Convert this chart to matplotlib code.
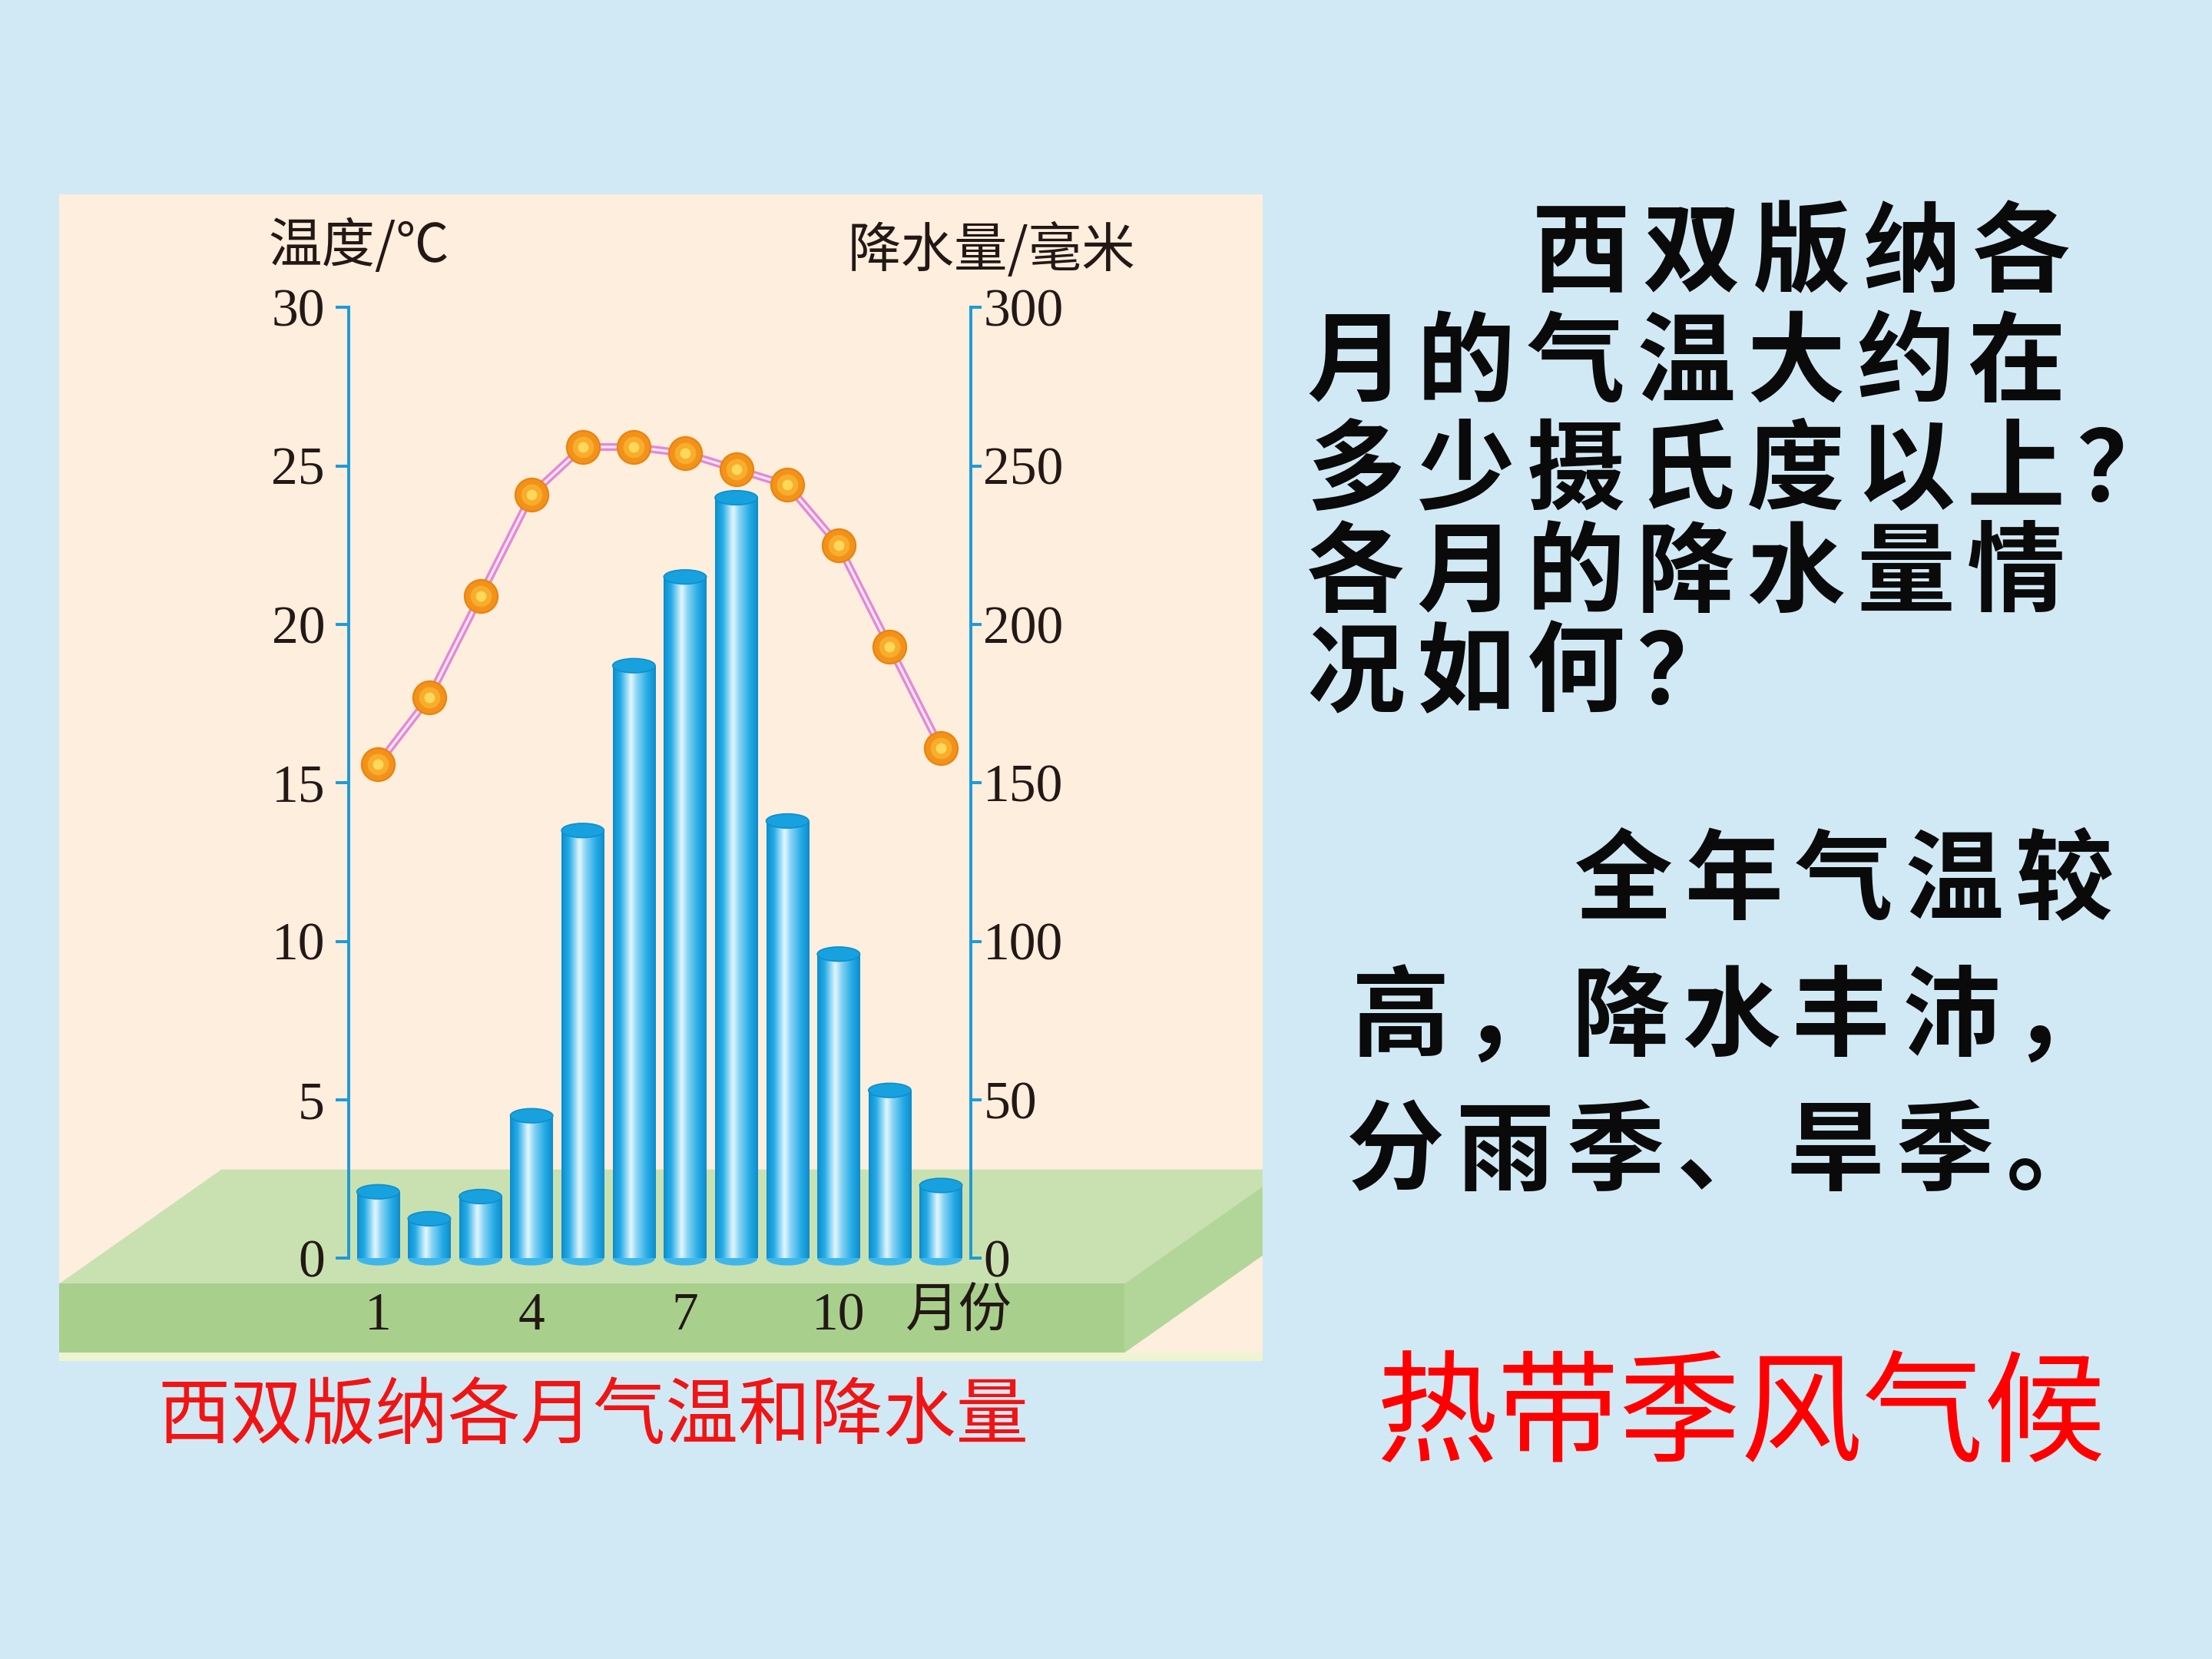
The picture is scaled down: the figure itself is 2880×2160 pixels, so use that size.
import matplotlib
matplotlib.use('Agg')
import matplotlib.pyplot as plt
import numpy as np
from matplotlib.patches import Polygon, Rectangle, Ellipse
from matplotlib.colors import LinearSegmentedColormap

# ---------------- data ----------------
months = list(range(1, 13))
temperature = [15.6, 17.7, 20.9, 24.1, 25.6, 25.6, 25.4, 24.9, 24.4, 22.5, 19.3, 16.1]
precipitation = [21, 12.5, 19.5, 45, 135, 187, 215, 240, 138, 96, 53, 23]
month_ticks = [1, 4, 7, 10]
month_tick_labels = ['1', '4', '7', '10']
temp_ticks = [0, 5, 10, 15, 20, 25, 30]
precip_ticks = [0, 50, 100, 150, 200, 250, 300]

question_lines = ['西双版纳各', '月的气温大约在', '多少摄氏度以上？', '各月的降水量情', '况如何？']
answer_lines = ['全年气温较', '高，降水丰沛，', '分雨季、旱季。']
caption = '西双版纳各月气温和降水量'
climate = '热带季风气候'

plt.rcParams['font.family'] = ['Noto Sans CJK SC', 'DejaVu Sans']

fig = plt.figure(figsize=(14.4, 10.8), dpi=200)
fig.patch.set_facecolor('#d1e9f5')

W, H = 1568, 1176
bg = fig.add_axes([0, 0, 1, 1], zorder=-10)
bg.set_xlim(0, W)
bg.set_ylim(H, 0)
bg.axis('off')

# cream panel
bg.add_patch(Rectangle((42, 138), 853, 827, fc='#fdeedd', ec='none'))
# green platform
bg.add_patch(Polygon([(42, 910), (157, 829), (895, 829), (895, 841), (797, 910)],
                     closed=True, fc='#c9e1b0', ec='none'))
bg.add_patch(Polygon([(797, 910), (895, 841), (895, 890), (797, 959)],
                     closed=True, fc='#b2d699', ec='none'))
bg.add_patch(Rectangle((42, 910), 755, 49, fc='#a8d08c', ec='none'))
bg.add_patch(Rectangle((42, 959), 853, 6, fc='#eef4d2', ec='none'))

# ---------------- chart axes ----------------
ax = fig.add_axes([247 / W, 1 - 892 / H, (688 - 247) / W, (892 - 218) / H])
ax2 = ax.twinx()
ax.set_zorder(ax2.get_zorder() + 1)
ax.patch.set_visible(False)
ax2.patch.set_visible(False)

blue = '#1c9ad6'
cmap = LinearSegmentedColormap.from_list(
    'cyl', [(0, '#0c8ccd'), (0.18, '#27ade8'), (0.42, '#e4f7ff'),
            (0.56, '#8ad4f4'), (0.8, '#27ace6'), (1, '#0c8ccd')])
grad = np.linspace(0, 1, 256).reshape(1, -1)

bars = ax2.bar(months, precipitation, width=0.83, color='#1ea5e2', zorder=2)
for b in bars:
    x0, w, h = b.get_x(), b.get_width(), b.get_height()
    ax2.add_patch(Ellipse((x0 + w / 2, 0), w, 4.5, fc='#3fb6ea', ec='none',
                          zorder=1.9, clip_on=False))
    im = ax2.imshow(grad, cmap=cmap, extent=[x0, x0 + w, 0, h], aspect='auto',
                    zorder=2.5, interpolation='bicubic')
    im.set_clip_path(b)
    ax2.add_patch(Ellipse((x0 + w / 2, h), w, 4.5, fc='#17a1de', ec='#0f8fcd',
                          lw=0.6, zorder=3))

# temperature line
ax.plot(months, temperature, color='#e389d6', lw=3.6, zorder=3, solid_capstyle='round')
ax.plot(months, temperature, color='#fbe4f6', lw=1.2, zorder=4)
ax.plot(months, temperature, 'o', ms=15.5, mfc='#f3921a', mec='#e9840e', mew=0.8, zorder=5)
ax.plot(months, temperature, 'o', ms=10, mfc='#f8ad2c', mec='none', zorder=6)
ax.plot(months, temperature, 'o', ms=5, mfc='#ffd85a', mec='none', zorder=7)

ax.set_xlim(0.42, 12.58)
ax.set_ylim(0, 30)
ax2.set_ylim(0, 300)

for s in ['top', 'bottom', 'right']:
    ax.spines[s].set_visible(False)
for s in ['top', 'bottom', 'left']:
    ax2.spines[s].set_visible(False)
ax.spines['left'].set_color(blue)
ax.spines['left'].set_linewidth(1.4)
ax2.spines['right'].set_color(blue)
ax2.spines['right'].set_linewidth(1.4)

serif = 'Liberation Serif'
ax.set_yticks(temp_ticks)
ax.tick_params(axis='y', direction='out', length=6, width=1.4, color=blue, pad=5,
               labelsize=25, labelcolor='#231815', labelfontfamily=serif)
ax2.set_yticks(precip_ticks)
ax2.tick_params(axis='y', direction='out', length=5, width=1.4, color=blue, pad=1,
                labelsize=25, labelcolor='#231815', labelfontfamily=serif)
ax.set_xticks(month_ticks, month_tick_labels)
ax.tick_params(axis='x', length=0, pad=16, labelsize=25, labelcolor='#231815',
               labelfontfamily=serif)

# axis titles
bg.text(190, 175, '温度/℃', fontsize=25, color='#231815', ha='left', va='center')
bg.text(601, 178, '降水量/毫米', fontsize=25, color='#231815', ha='left', va='center')
bg.text(642, 930, '月份', fontsize=25, color='#231815', ha='left', va='center')

# caption
bg.text(112, 1005, caption, fontsize=34, color='#f01414', ha='left', va='center')

# right side text, one character per fixed-width cell
pitch = 78


def place_line(x_start, y, s, **kw):
    for i, ch in enumerate(s):
        bg.text(x_start + pitch * (i + 0.5), y, ch, ha='center', va='center', **kw)


style = dict(fontsize=46, fontweight='bold', color='#0a0a0a')
q_pos = [(1082, 181), (922, 259), (922, 335), (922, 408), (922, 479)]
for (x, y), s in zip(q_pos, question_lines):
    place_line(x, y, s, **style)
a_pos = [(1112, 626), (954, 723), (950, 818)]
for (x, y), s in zip(a_pos, answer_lines):
    place_line(x, y, s, **style)

bg.text(975, 1005, climate, fontsize=57, fontweight='medium', color='#ff0000',
        ha='left', va='center')

fig.savefig('out.png', dpi=200, facecolor=fig.get_facecolor())
